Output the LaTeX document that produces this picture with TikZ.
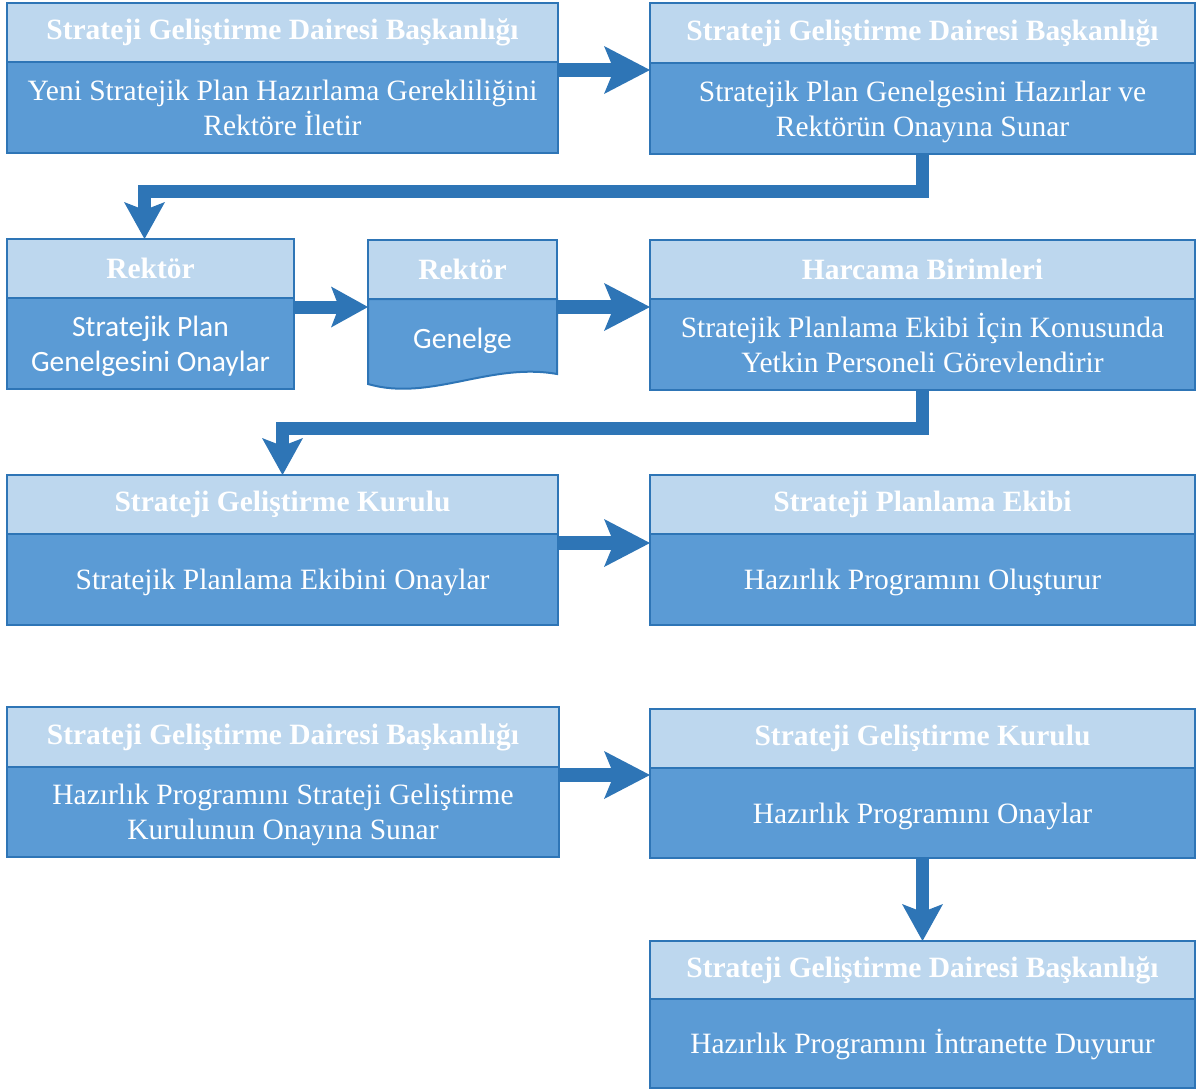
\documentclass[tikz,border=0pt]{standalone}
\usepackage{fontspec}
\setmainfont{Liberation Serif}
\newfontfamily\calibrifont{Carlito}
\usetikzlibrary{arrows.meta}
\definecolor{hfill}{HTML}{BDD7EE}
\definecolor{bfill}{HTML}{5B9BD5}
\definecolor{bord}{HTML}{2E75B6}
\definecolor{arrc}{HTML}{2E75B6}
\begin{document}
\begin{tikzpicture}[x=1pt,y=-1pt,
 box/.style={draw=bord, line width=2pt, anchor=north west, inner sep=0pt, outer sep=0pt, text=white, align=center},
 hdr/.style={box, fill=hfill, font=\bfseries\fontsize{29.5}{34}\selectfont},
 bdy/.style={box, fill=bfill, font=\fontsize{29.5}{35}\selectfont},
 sansbdy/.style={font=\calibrifont\fontsize{29.5}{35}\selectfont},
 oneline/.style={text height=27pt, text depth=7pt},
 twoline/.style={text height=62pt, text depth=7pt},
 arrbig/.style={draw=arrc, line width=14pt, -{Stealth[length=46pt,width=48pt,inset=10pt,line width=0pt]}},
 arrsmall/.style={draw=arrc, line width=13pt, -{Stealth[length=37pt,width=41pt,inset=8pt,line width=0pt]}},
]
\useasboundingbox (0,0) rectangle (1196,1090);

% Box 1
\node[hdr, minimum width=551pt, minimum height=59pt] (h1) at (7,3) {Strateji Geliştirme Dairesi Başkanlığı};
\node[bdy, twoline, minimum width=551pt, minimum height=91pt] (b1) at (7,62) {Yeni Stratejik Plan Hazırlama Gerekliliğini\\Rektöre İletir};
% Box 2
\node[hdr, minimum width=545pt, minimum height=60pt] (h2) at (650,3) {Strateji Geliştirme Dairesi Başkanlığı};
\node[bdy, twoline, minimum width=545pt, minimum height=91pt] (b2) at (650,63) {Stratejik Plan Genelgesini Hazırlar ve\\Rektörün Onayına Sunar};
% Box 3
\node[hdr, minimum width=287pt, minimum height=59pt] (h3) at (7,239) {Rektör};
\node[bdy, sansbdy, twoline, minimum width=287pt, minimum height=91pt] (b3) at (7,298) {Stratejik Plan\\Genelgesini Onaylar};
% Box 4 (document)
\node[hdr, minimum width=189pt, minimum height=59pt] (h4) at (368,240) {Rektör};
\path[fill=bfill, draw=bord, line width=2pt] (368,299) -- (557,299) -- (557,374) .. controls (490,362) and (430,402) .. (368,384) -- cycle;
\node[box, draw=none, sansbdy, oneline, minimum width=189pt, minimum height=78pt] (b4) at (368,299) {Genelge};
% Box 5
\node[hdr, minimum width=545pt, minimum height=59pt] (h5) at (650,240) {Harcama Birimleri};
\node[bdy, twoline, minimum width=545pt, minimum height=91pt] (b5) at (650,299) {Stratejik Planlama Ekibi İçin Konusunda\\Yetkin Personeli Görevlendirir};
% Box 6
\node[hdr, minimum width=551pt, minimum height=59pt] (h6) at (7,475) {Strateji Geliştirme Kurulu};
\node[bdy, oneline, minimum width=551pt, minimum height=91pt] (b6) at (7,534) {Stratejik Planlama Ekibini Onaylar};
% Box 7
\node[hdr, minimum width=545pt, minimum height=59pt] (h7) at (650,475) {Strateji Planlama Ekibi};
\node[bdy, oneline, minimum width=545pt, minimum height=91pt] (b7) at (650,534) {Hazırlık Programını Oluşturur};
% Box 8
\node[hdr, minimum width=552pt, minimum height=60pt] (h8) at (7,707) {Strateji Geliştirme Dairesi Başkanlığı};
\node[bdy, twoline, minimum width=552pt, minimum height=90pt] (b8) at (7,767) {Hazırlık Programını Strateji Geliştirme\\Kurulunun Onayına Sunar};
% Box 9
\node[hdr, minimum width=545pt, minimum height=59pt] (h9) at (650,709) {Strateji Geliştirme Kurulu};
\node[bdy, oneline, minimum width=545pt, minimum height=90pt] (b9) at (650,768) {Hazırlık Programını Onaylar};
% Box 10
\node[hdr, minimum width=545pt, minimum height=58pt] (h10) at (650,941) {Strateji Geliştirme Dairesi Başkanlığı};
\node[bdy, oneline, minimum width=545pt, minimum height=89pt] (b10) at (650,999) {Hazırlık Programını İntranette Duyurur};

% Arrows
\draw[arrbig] ([yshift=-8pt]b1.north east) -- ([yshift=-8pt]b1.north east -| b2.west);
\draw[arrsmall] (b2.south) -- ++(0,37) -| ([xshift=-6pt]h3.north);
\draw[arrsmall] ([yshift=-9pt]b3.north east) -- ([yshift=-9pt]b3.north east -| h4.west);
\draw[arrbig] ([yshift=-8pt]b4.north east) -- ([yshift=-8pt]b4.north east -| b5.west);
\draw[arrsmall] (b5.south) -- ++(0,38) -| (h6.north);
\draw[arrbig] ([yshift=-9pt]b6.north east) -- ([yshift=-9pt]b6.north east -| b7.west);
\draw[arrbig] ([yshift=-8pt]b8.north east) -- ([yshift=-8pt]b8.north east -| b9.west);
\draw[arrsmall] (b9.south) -- (h10.north);
\end{tikzpicture}
\end{document}
